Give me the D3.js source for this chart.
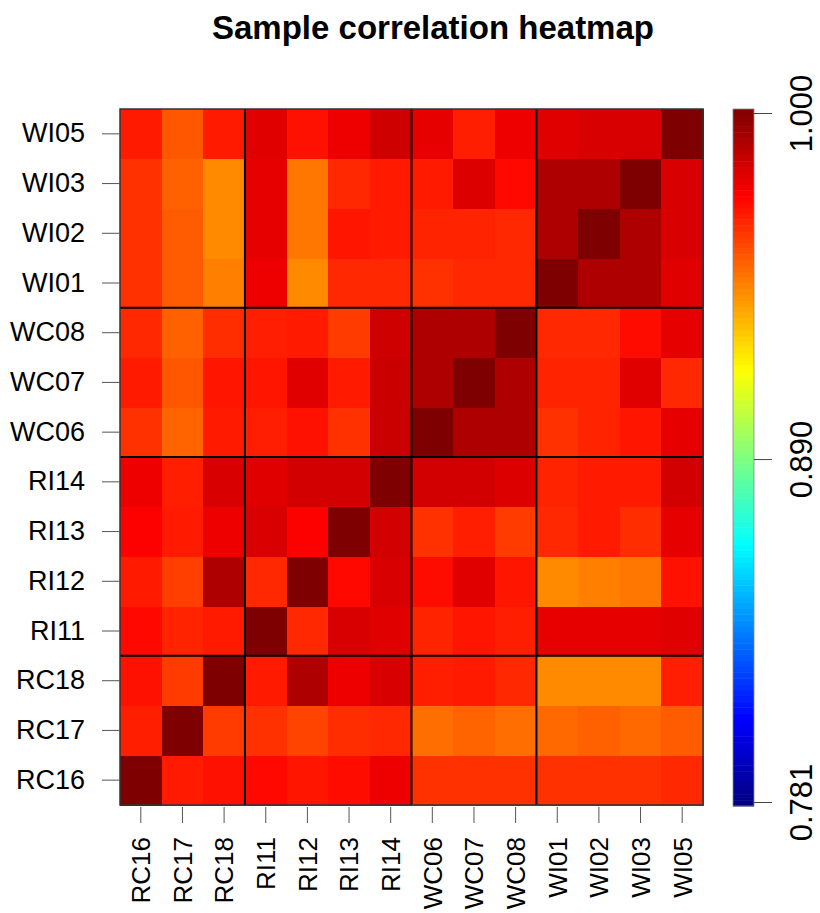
<!DOCTYPE html>
<html>
<head>
<meta charset="utf-8">
<script src="https://cdn.jsdelivr.net/npm/d3@7"></script>
<style>
  html, body { margin: 0; padding: 0; background: #fff; overflow: hidden; }
  svg text { font-family: "Liberation Sans", Arial, sans-serif; fill: #000; }
</style>
</head>
<body>
<svg id="chart" width="820" height="913"></svg>
<script>
// Sample order along both axes (columns left→right, rows bottom→top)
const samples = ["RC16","RC17","RC18","RI11","RI12","RI13","RI14",
                 "WC06","WC07","WC08","WI01","WI02","WI03","WI05"];

// Boundaries between sample groups (index where a new group starts)
const groupBreaks = [3, 7, 10];

// Correlation values; row i / column j follow the order of `samples`
const corr = [
  [1.000,0.967,0.969,0.971,0.968,0.970,0.976,0.962,0.962,0.962,0.962,0.962,0.962,0.964], // RC16
  [0.966,1.000,0.960,0.962,0.958,0.963,0.964,0.949,0.951,0.949,0.950,0.952,0.950,0.953], // RC17
  [0.969,0.960,1.000,0.967,0.990,0.976,0.981,0.966,0.967,0.964,0.943,0.943,0.943,0.966], // RC18
  [0.971,0.965,0.967,1.000,0.964,0.981,0.979,0.965,0.968,0.966,0.978,0.978,0.978,0.979], // RI11
  [0.967,0.959,0.990,0.964,1.000,0.971,0.981,0.970,0.979,0.968,0.943,0.945,0.947,0.969], // RI12
  [0.973,0.967,0.976,0.981,0.973,1.000,0.982,0.962,0.966,0.960,0.964,0.967,0.963,0.978], // RI13
  [0.976,0.966,0.981,0.979,0.982,0.982,1.000,0.982,0.982,0.980,0.965,0.967,0.967,0.982], // RI14
  [0.962,0.951,0.967,0.966,0.969,0.962,0.984,1.000,0.990,0.990,0.962,0.965,0.968,0.978], // WC06
  [0.967,0.954,0.968,0.968,0.979,0.967,0.984,0.990,1.000,0.990,0.965,0.965,0.979,0.964], // WC07
  [0.964,0.952,0.963,0.966,0.967,0.960,0.983,0.990,0.990,1.000,0.964,0.964,0.970,0.978], // WC08
  [0.962,0.953,0.945,0.976,0.943,0.964,0.964,0.962,0.964,0.964,1.000,0.990,0.990,0.979], // WI01
  [0.962,0.953,0.943,0.978,0.947,0.968,0.967,0.965,0.965,0.964,0.990,1.000,0.990,0.981], // WI02
  [0.962,0.952,0.943,0.978,0.947,0.964,0.967,0.967,0.980,0.971,0.990,0.990,1.000,0.981], // WI03
  [0.967,0.954,0.967,0.979,0.969,0.976,0.983,0.978,0.966,0.976,0.979,0.981,0.981,1.000]  // WI05
];

// Colour key range and labelled ticks
const colorMin = 0.781;
const colorMax = 1.000;
const keyTicks = [0.781, 0.890, 1.000];

// Jet palette
const jet = ["#00007F","#0000FF","#007FFF","#00FFFF","#7FFF7F","#FFFF00","#FF7F00","#FF0000","#7F0000"];

const svg = d3.select("#chart");
const fontFamily = "'Liberation Sans', Arial, sans-serif";

const plot = { left: 120, right: 703, top: 109, bottom: 805 };

const x = d3.scaleBand().domain(samples).range([plot.left, plot.right]).padding(0);
const y = d3.scaleBand().domain(samples).range([plot.bottom, plot.top]).padding(0);

const color = d3.scaleLinear()
  .domain(d3.range(jet.length).map(i => colorMin + (colorMax - colorMin) * i / (jet.length - 1)))
  .range(jet)
  .clamp(true);

// Title
svg.append("text")
  .attr("x", 433).attr("y", 39)
  .attr("text-anchor", "middle")
  .style("font-size", "33px")
  .style("font-weight", "bold")
  .text("Sample correlation heatmap");

// Heatmap cells
const cells = [];
corr.forEach((row, i) => row.forEach((v, j) => cells.push({ r: samples[i], c: samples[j], v })));

svg.append("g")
  .selectAll("rect")
  .data(cells)
  .join("rect")
  .attr("x", d => x(d.c))
  .attr("y", d => y(d.r))
  .attr("width", x.bandwidth() + 0.5)
  .attr("height", y.bandwidth() + 0.5)
  .attr("fill", d => color(d.v))
  .attr("shape-rendering", "crispEdges");

// Group separators
const sepG = svg.append("g").attr("stroke", "#000").attr("stroke-width", 2);
groupBreaks.forEach(k => {
  const xv = x(samples[k]);
  sepG.append("line").attr("x1", xv).attr("x2", xv).attr("y1", plot.top).attr("y2", plot.bottom);
  const yv = y(samples[k]) + y.bandwidth();
  sepG.append("line").attr("x1", plot.left).attr("x2", plot.right).attr("y1", yv).attr("y2", yv);
});

// Plot frame
svg.append("rect")
  .attr("x", plot.left).attr("y", plot.top)
  .attr("width", plot.right - plot.left).attr("height", plot.bottom - plot.top)
  .attr("fill", "none").attr("stroke", "#333").attr("stroke-width", 1.5);

// Row labels
const yAxis = d3.axisLeft(y).tickSize(18).tickPadding(17);
const gy = svg.append("g").attr("transform", `translate(${plot.left},0)`).call(yAxis);
gy.select(".domain").remove();
gy.selectAll(".tick line").attr("stroke", "#555");
gy.selectAll("text").style("font-size", "27px").style("font-family", fontFamily);

// Column labels
const xAxis = d3.axisBottom(x).tickSize(16).tickPadding(8);
const gx = svg.append("g").attr("transform", `translate(0,${plot.bottom + 2})`).call(xAxis);
gx.select(".domain").remove();
gx.selectAll(".tick line").attr("stroke", "#555");
gx.selectAll("text")
  .style("font-size", "26px")
  .style("font-family", fontFamily)
  .attr("transform", "rotate(-90)")
  .attr("text-anchor", "end")
  .attr("x", -30).attr("y", 0).attr("dy", "0.36em");

// Colour key
const key = { left: 733, width: 21, top: 109, bottom: 806 };
const keyScale = d3.scaleLinear().domain([colorMin, colorMax]).range([802, 113]);
const nBins = 120;
const binH = (key.bottom - key.top) / nBins;
svg.append("g")
  .selectAll("rect")
  .data(d3.range(nBins))
  .join("rect")
  .attr("x", key.left)
  .attr("y", i => key.bottom - (i + 1) * binH)
  .attr("width", key.width)
  .attr("height", binH + 0.5)
  .attr("fill", i => color(colorMin + (colorMax - colorMin) * (i + 0.5) / nBins));

svg.append("rect")
  .attr("x", key.left).attr("y", key.top)
  .attr("width", key.width).attr("height", key.bottom - key.top)
  .attr("fill", "none").attr("stroke", "#888").attr("stroke-width", 0.8);

const keyAxis = d3.axisRight(keyScale).tickValues(keyTicks).tickFormat(d3.format(".3f")).tickSize(18);
const gk = svg.append("g").attr("transform", `translate(${key.left + key.width},0)`).call(keyAxis);
gk.select(".domain").remove();
gk.selectAll(".tick line").attr("stroke", "#444");
gk.selectAll("text")
  .style("font-size", "31px")
  .style("font-family", fontFamily)
  .attr("text-anchor", "middle")
  .attr("x", 0).attr("y", 0).attr("dy", "0.36em")
  .attr("transform", "translate(47,0) rotate(-90)");
</script>
</body>
</html>
